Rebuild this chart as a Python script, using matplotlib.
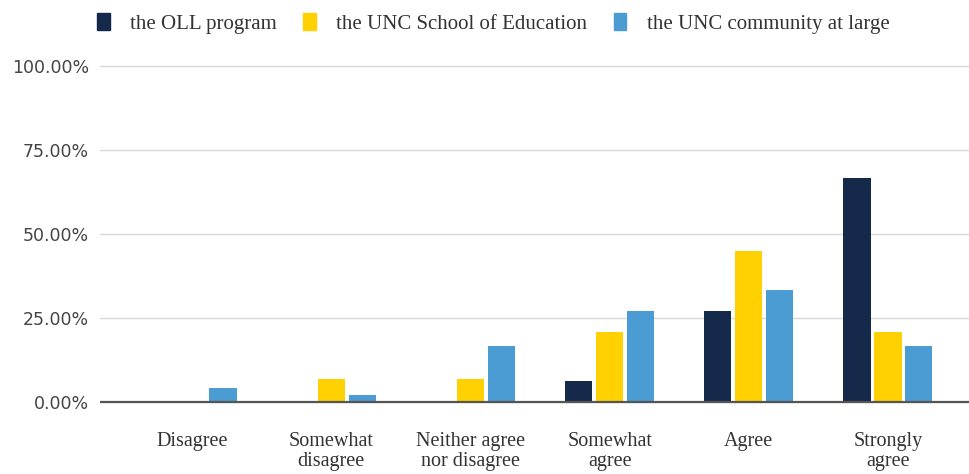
import numpy as np
import matplotlib
matplotlib.use("Agg")
import matplotlib.pyplot as plt
from matplotlib.ticker import FuncFormatter
from matplotlib.patches import Patch

categories = ["Disagree", "Somewhat\ndisagree", "Neither agree\nnor disagree",
              "Somewhat\nagree", "Agree", "Strongly\nagree"]
series_names = ["the OLL program", "the UNC School of Education", "the UNC community at large"]
oll = [0.0, 0.0, 0.0, 6.25, 27.08, 66.67]
school = [0.0, 6.90, 6.90, 20.69, 44.83, 20.69]
community = [4.17, 2.08, 16.67, 27.08, 33.33, 16.67]
colors = ["#15294b", "#ffd100", "#4b9cd3"]

fig = plt.figure(figsize=(9.69, 4.74), dpi=100)
ax = fig.add_axes([100 / 969, 1 - 410 / 474, 869 / 969, 350 / 474])

x = np.arange(len(categories))
step = 0.222
width = 0.196
for i, (vals, c, name) in enumerate(zip([oll, school, community], colors, series_names)):
    ax.bar(x + (i - 1) * step, vals, width, color=c, label=name, zorder=3)

ax.set_xlim(-0.662, 5.583)
ax.set_ylim(-8 / 3.36, 100 + 6 / 3.36)
ax.set_yticks([0, 25, 50, 75, 100])
ax.yaxis.set_major_formatter(FuncFormatter(lambda v, p: f"{v:.2f}%"))
ax.grid(axis="y", color="#d9d9d9", linewidth=1, zorder=0)
ax.axhline(0, color="#555555", linewidth=1.6, zorder=4)
for s in ax.spines.values():
    s.set_visible(False)
ax.tick_params(axis="both", length=0)
ax.tick_params(axis="y", labelsize=12.5, labelcolor="#444444", pad=8)
ax.set_xticks(x)
ax.set_xticklabels(categories, fontfamily="Liberation Serif", fontsize=14.5, color="#333333",
                   linespacing=1.08)
ax.tick_params(axis="x", pad=16)
for lab in ax.get_yticklabels():
    lab.set_fontfamily("DejaVu Sans")

handles = [Patch(color=c) for c in colors]
fig.legend(handles, series_names, loc="upper left", bbox_to_anchor=(97 / 969, 1 - 13 / 474),
           ncol=3, frameon=False, borderpad=0, borderaxespad=0, handlelength=0.6,
           handleheight=0.85, handletextpad=1.0, columnspacing=1.25,
           prop={"family": "Liberation Serif", "size": 15}, labelcolor="#333333")

fig.savefig("out.png", dpi=100)
